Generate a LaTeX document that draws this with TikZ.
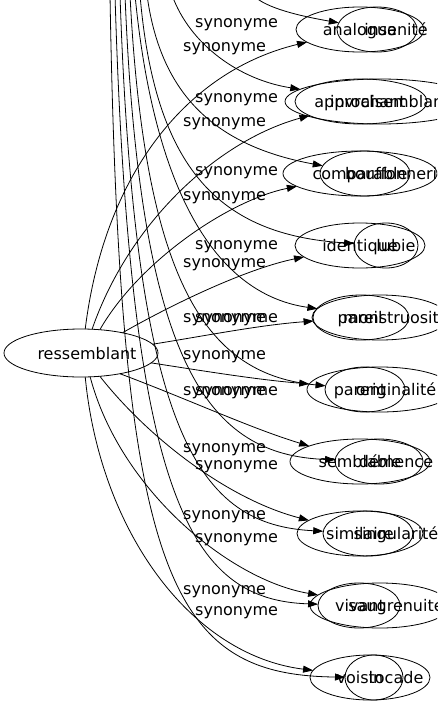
\documentclass[tikz,border=0pt]{standalone}
\usepackage{fontspec}
\setmainfont{DejaVu Sans}
\usetikzlibrary{shapes.geometric,arrows.meta}
\begin{document}
\begin{tikzpicture}[x=1pt,y=-1pt,font=\fontsize{16pt}{19pt}\selectfont,
  ell/.style={draw, ellipse, line width=0.8pt, inner sep=0pt, outer sep=0pt, minimum height=45pt},
  word/.style={inner sep=0pt, anchor=base},
  lab/.style={inner sep=0pt, anchor=west},
  syn/.style={draw, line width=0.8pt, -{Triangle[length=10pt,width=7pt]}}]
\useasboundingbox (0,0) rectangle (437,707);
\clip (0,0) rectangle (437,707);

% source node
\node[ell, minimum width=154pt, minimum height=48pt] (res) at (81,353) {};
\node[word] (rest) at (87,359) {ressemblant};

% right-hand ellipses
\node[ell, minimum width=128pt] (r1a) at (360,29.5) {};
\node[ell, minimum width=80pt]  (r1b) at (377,29.5) {};
\node[ell, minimum width=132pt] (r2a) at (361,101.5) {};
\node[ell, minimum width=190pt] (r2b) at (380,101.5) {};
\node[ell, minimum width=154pt] (r3a) at (360,173.5) {};
\node[ell, minimum width=90pt]  (r3b) at (365,173.5) {};
\node[ell, minimum width=130pt] (r4a) at (360,245.5) {};
\node[ell, minimum width=64pt]  (r4b) at (386,245.5) {};
\node[ell, minimum width=96pt]  (r5a) at (361,317.5) {};
\node[ell, minimum width=136pt] (r5b) at (380,317.5) {};
\node[ell, minimum width=146pt] (r6a) at (380,389.5) {};
\node[ell, minimum width=80pt]  (r6b) at (365,389.5) {};
\node[ell, minimum width=140pt] (r7a) at (360,461.5) {};
\node[ell, minimum width=88pt]  (r7b) at (379,461.5) {};
\node[ell, minimum width=126pt] (r8a) at (360,533.5) {};
\node[ell, minimum width=90pt]  (r8b) at (368,533.5) {};
\node[ell, minimum width=140pt] (r9a) at (380,605.5) {};
\node[ell, minimum width=82pt]  (r9b) at (359,605.5) {};
\node[ell, minimum width=120pt] (r10a) at (370,677.5) {};
\node[ell, minimum width=58pt]  (r10b) at (374,677.5) {};

% words
\node[word] (w1a) at (360,35.5) {analogue};
\node[word] (w1b) at (396,35.5) {insanité};
\node[word] (w2a) at (360,107.5) {approchant};
\node[word] (w2b) at (396,107.5) {invraisemblance};
\node[word] (w3a) at (360,179.5) {comparable};
\node[word] (w3b) at (396,179.5) {bouffonnerie};
\node[word] (w4a) at (360,251.5) {identique};
\node[word] (w4b) at (396,251.5) {lubie};
\node[word] (w5a) at (360,323.5) {pareil};
\node[word] (w5b) at (396,323.5) {monstruosité};
\node[word] (w6a) at (360,395.5) {parent};
\node[word] (w6b) at (396,395.5) {originalité};
\node[word] (w7a) at (360,467.5) {semblable};
\node[word] (w7b) at (396,467.5) {démence};
\node[word] (w8a) at (360,539.5) {similaire};
\node[word] (w8b) at (396,539.5) {singularité};
\node[word] (w9a) at (360,611.5) {vivant};
\node[word] (w9b) at (396,611.5) {saugrenuité};
\node[word] (w10a) at (360,683.5) {voisin};
\node[word] (w10b) at (396,683.5) {tocade};

% free ends of the edges coming from above
\coordinate (bs1) at (253,-5);
\coordinate (bs2) at (172,-5);
\coordinate (bs3) at (147,-5);
\coordinate (bs4) at (140,-5);
\coordinate (bs5) at (135,-5);
\coordinate (bs6) at (130,-5);
\coordinate (bs7) at (125,-5);
\coordinate (bs8) at (120,-5);
\coordinate (bs9) at (115,-5);
\coordinate (bs10) at (110,-5);

% edges from above
\draw[syn] (bs1) .. controls (265,8) and (300,16) .. (r1b);
\draw[syn] (bs2) .. controls (190,45) and (240,80) .. (r2b);
\draw[syn] (bs3) .. controls (160,90) and (210,145) .. (r3b);
\draw[syn] (bs4) .. controls (155,170) and (220,235) .. (r4b);
\draw[syn] (bs5) .. controls (155,200) and (220,295) .. (r5b);
\draw[syn] (bs6) .. controls (145,290) and (210,375) .. (r6b);
\draw[syn] (bs7) .. controls (140,370) and (210,455) .. (r7b);
\draw[syn] (bs8) .. controls (135,440) and (200,525) .. (r8b);
\draw[syn] (bs9) .. controls (130,500) and (190,600) .. (r9b);
\draw[syn] (bs10) .. controls (120,580) and (170,675) .. (r10b);

% edges from ressemblant
\draw[syn] (res.80) .. controls (105,170) and (190,70) .. (r1a);
\draw[syn] (res.65) .. controls (130,220) and (220,140) .. (r2a);
\draw[syn] (res.51) .. controls (140,260) and (230,200) .. (r3a);
\draw[syn] (res.26) .. controls (180,300) and (250,268) .. (r4a);
\draw[syn] (res.7) .. controls (210,335) and (260,325) .. (r5a);
\draw[syn] (res.-8) .. controls (210,372) and (260,380) .. (r6a);
\draw[syn] (res.-28) .. controls (190,400) and (250,428) .. (r7a);
\draw[syn] (res.-51) .. controls (150,440) and (230,500) .. (r8a);
\draw[syn] (res.-69) .. controls (120,490) and (230,580) .. (r9a);
\draw[syn] (res.-80) .. controls (100,530) and (190,655) .. (r10a);

% edge labels
\node[lab] (l1) at (195,25) {synonyme};
\node[lab] (l2) at (183,49) {synonyme};
\node[lab] (l3) at (195,100) {synonyme};
\node[lab] (l4) at (183,124) {synonyme};
\node[lab] (l5) at (195,173) {synonyme};
\node[lab] (l6) at (183,198) {synonyme};
\node[lab] (l7) at (195,247) {synonyme};
\node[lab] (l8) at (183,265) {synonyme};
\node[lab] (l9) at (183,320) {synonyme};
\node[lab] (l10) at (195,320) {synonyme};
\node[lab] (l11) at (183,357) {synonyme};
\node[lab] (l12) at (183,393) {synonyme};
\node[lab] (l13) at (195,393) {synonyme};
\node[lab] (l14) at (183,450) {synonyme};
\node[lab] (l15) at (195,467) {synonyme};
\node[lab] (l16) at (183,517) {synonyme};
\node[lab] (l17) at (195,540) {synonyme};
\node[lab] (l18) at (183,592) {synonyme};
\node[lab] (l19) at (195,613) {synonyme};
\end{tikzpicture}
\end{document}
